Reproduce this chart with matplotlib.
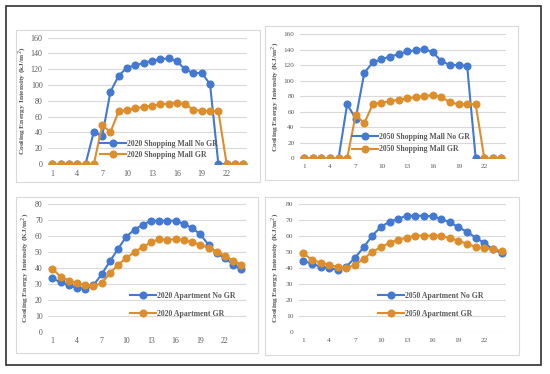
import matplotlib.pyplot as plt
from matplotlib.patches import Rectangle
import numpy as np

hours = list(range(1, 25))
tick_hours = [1, 4, 7, 10, 13, 16, 19, 22]

# 2020 shopping mall
mall20_nogr = [0, 0, 0, 0, 0, 41, 35, 91.5, 112, 122, 125, 128, 131, 132.5, 134, 130,
               120, 115, 115.5, 101, 0, 0, 0, 0]
mall20_gr = [0, 0, 0, 0, 0, 0, 49, 40.5, 67, 68, 70.5, 72.5, 74, 75.5, 76.5, 77.5,
             75.5, 69, 67, 67, 67, 0, 0, 0]
# 2050 shopping mall
mall50_nogr = [0, 0, 0, 0, 0, 69.5, 51, 110, 123.5, 127.5, 131, 134, 137.5, 139, 140.7, 136.5,
               125, 120, 120, 119, 0, 0, 0, 0]
mall50_gr = [0, 0, 0, 0, 0, 0, 56, 45, 70, 71.5, 73.5, 75.5, 77, 79, 80, 81.5,
             79, 72, 69.5, 69.5, 69.5, 0, 0, 0]
# 2020 apartment
apt20_nogr = [33.5, 31, 29, 27.5, 27, 29, 36, 44, 52, 59.5, 64, 67, 69.5, 69.5, 69.5, 69.5,
              67.5, 65, 61, 54.5, 49, 46, 42, 39]
apt20_gr = [39.5, 34.5, 32, 30.5, 29, 28.5, 30.5, 36.5, 42, 46, 50, 53, 56, 58, 57.5, 58,
            57.5, 56, 54.5, 52.5, 50, 47.5, 44.5, 42]
# 2050 apartment
apt50_nogr = [44.7, 42.6, 41, 40, 39, 41, 46.5, 53, 60.3, 65.7, 69, 70.7, 72.8, 72.5, 72.8, 72.3,
              70.7, 68.6, 65.5, 62.6, 59, 55.5, 51.8, 49.5]
apt50_gr = [49.5, 45, 43.5, 42, 40.7, 40.3, 41.8, 46, 50, 53.2, 55.7, 57.8, 59, 60.3, 60.3, 60.3,
            60.3, 58.6, 57.2, 55, 53.4, 52.4, 51.8, 50.7]

BLUE = '#4479D2'
ORANGE = '#DD8E2C'
GRAY = '#595959'
FONT = 'Liberation Serif'

W, H = 550, 374
fig = plt.figure(figsize=(5.5, 3.74), dpi=100)

def fx(px):
    return px / W

def fy(py):
    return 1 - py / H

# outer frame
fig.patches.append(Rectangle((fx(6), fy(365)), fx(535), (359) / H, transform=fig.transFigure,
                             fill=False, edgecolor='#303030', lw=1.2, zorder=-2))
# chart boxes
for (x0, y0, x1, y1) in [(16, 30, 260, 182), (265, 26, 518, 180), (16, 197, 258, 353), (265, 197, 519, 355)]:
    fig.patches.append(Rectangle((fx(x0), fy(y1)), fx(x1 - x0), (y1 - y0) / H, transform=fig.transFigure,
                                 facecolor='white', edgecolor='#D9D9D9', lw=0.8, zorder=-1))

panels = [
    # axes px (left, right, top, bottom), ymax, series, labels, legend anchor, spacing, ylabel, ylabel pos, tick size
    ((48.2, 247.4, 37.7, 164.0), 160, mall20_nogr, mall20_gr,
     ('2020 Shopping Mall No GR', '2020 Shopping Mall GR'), (100, 140), 0.4,
     'Cooling Energy Intensity (kJ/m$^2$)', (23, 101), 5.8),
    ((300.0, 505.7, 34.0, 158.3), 160, mall50_nogr, mall50_gr,
     ('2050 Shopping Mall No GR', '2050 Shopping Mall GR'), (352, 133), 0.55,
     'Cooling Energy Intensity (KJ/m$^2$)', (275.5, 97), 5.2),
    ((48.2, 245.5, 204.0, 331.7), 80, apt20_nogr, apt20_gr,
     ('2020 Apartment No GR', '2020 Apartment GR'), (130, 292), 1.25,
     'Cooling Energy Intensity (KJ/m$^2$)', (26, 268), 5.6),
    ((299.0, 505.9, 204.0, 332.3), 80, apt50_nogr, apt50_gr,
     ('2050 Apartment No GR', '2050 Apartment GR'), (378, 292), 1.25,
     'Cooling Energy Intensity (KJ/m$^2$)', (276, 268), 5.4),
]

for (l, r, t, b), ymax, s1, s2, labels, leg_xy, lsp, ylab, ylab_xy, tsize in panels:
    ax = fig.add_axes([fx(l), fy(b), fx(r - l), (b - t) / H])
    ax.set_facecolor('none')
    ax.plot(hours, s1, '-o', color=BLUE, lw=1.5, ms=4.8, label=labels[0], zorder=3)
    ax.plot(hours, s2, '-o', color=ORANGE, lw=1.5, ms=4.8, label=labels[1], zorder=4)
    ax.set_xlim(0.5, 24.5)
    ax.set_ylim(0, ymax)
    ax.set_yticks(np.arange(0, ymax + 1, 20 if ymax == 160 else 10))
    ax.set_xticks(tick_hours)
    ax.grid(axis='y', color='#D9D9D9', lw=0.8)
    ax.set_axisbelow(True)
    for sp in ax.spines.values():
        sp.set_visible(False)
    ax.tick_params(length=0, labelsize=tsize, labelcolor=GRAY, pad=4)
    for lab in ax.get_xticklabels() + ax.get_yticklabels():
        lab.set_fontfamily(FONT)
    leg = ax.legend(loc='upper left', bbox_to_anchor=(fx(leg_xy[0]), fy(leg_xy[1])),
                    bbox_transform=fig.transFigure, frameon=False, numpoints=1,
                    handlelength=3.3, handletextpad=0.2, borderpad=0, borderaxespad=0,
                    labelspacing=lsp, prop={'family': FONT, 'weight': 'bold', 'size': 5.6})
    for txt in leg.get_texts():
        txt.set_color(GRAY)
    fig.text(fx(ylab_xy[0]), fy(ylab_xy[1]), ylab, rotation=90, ha='center', va='center',
             fontsize=5.4, fontfamily=FONT, fontweight='bold', color=GRAY)

fig.savefig('out.png', dpi=100)
